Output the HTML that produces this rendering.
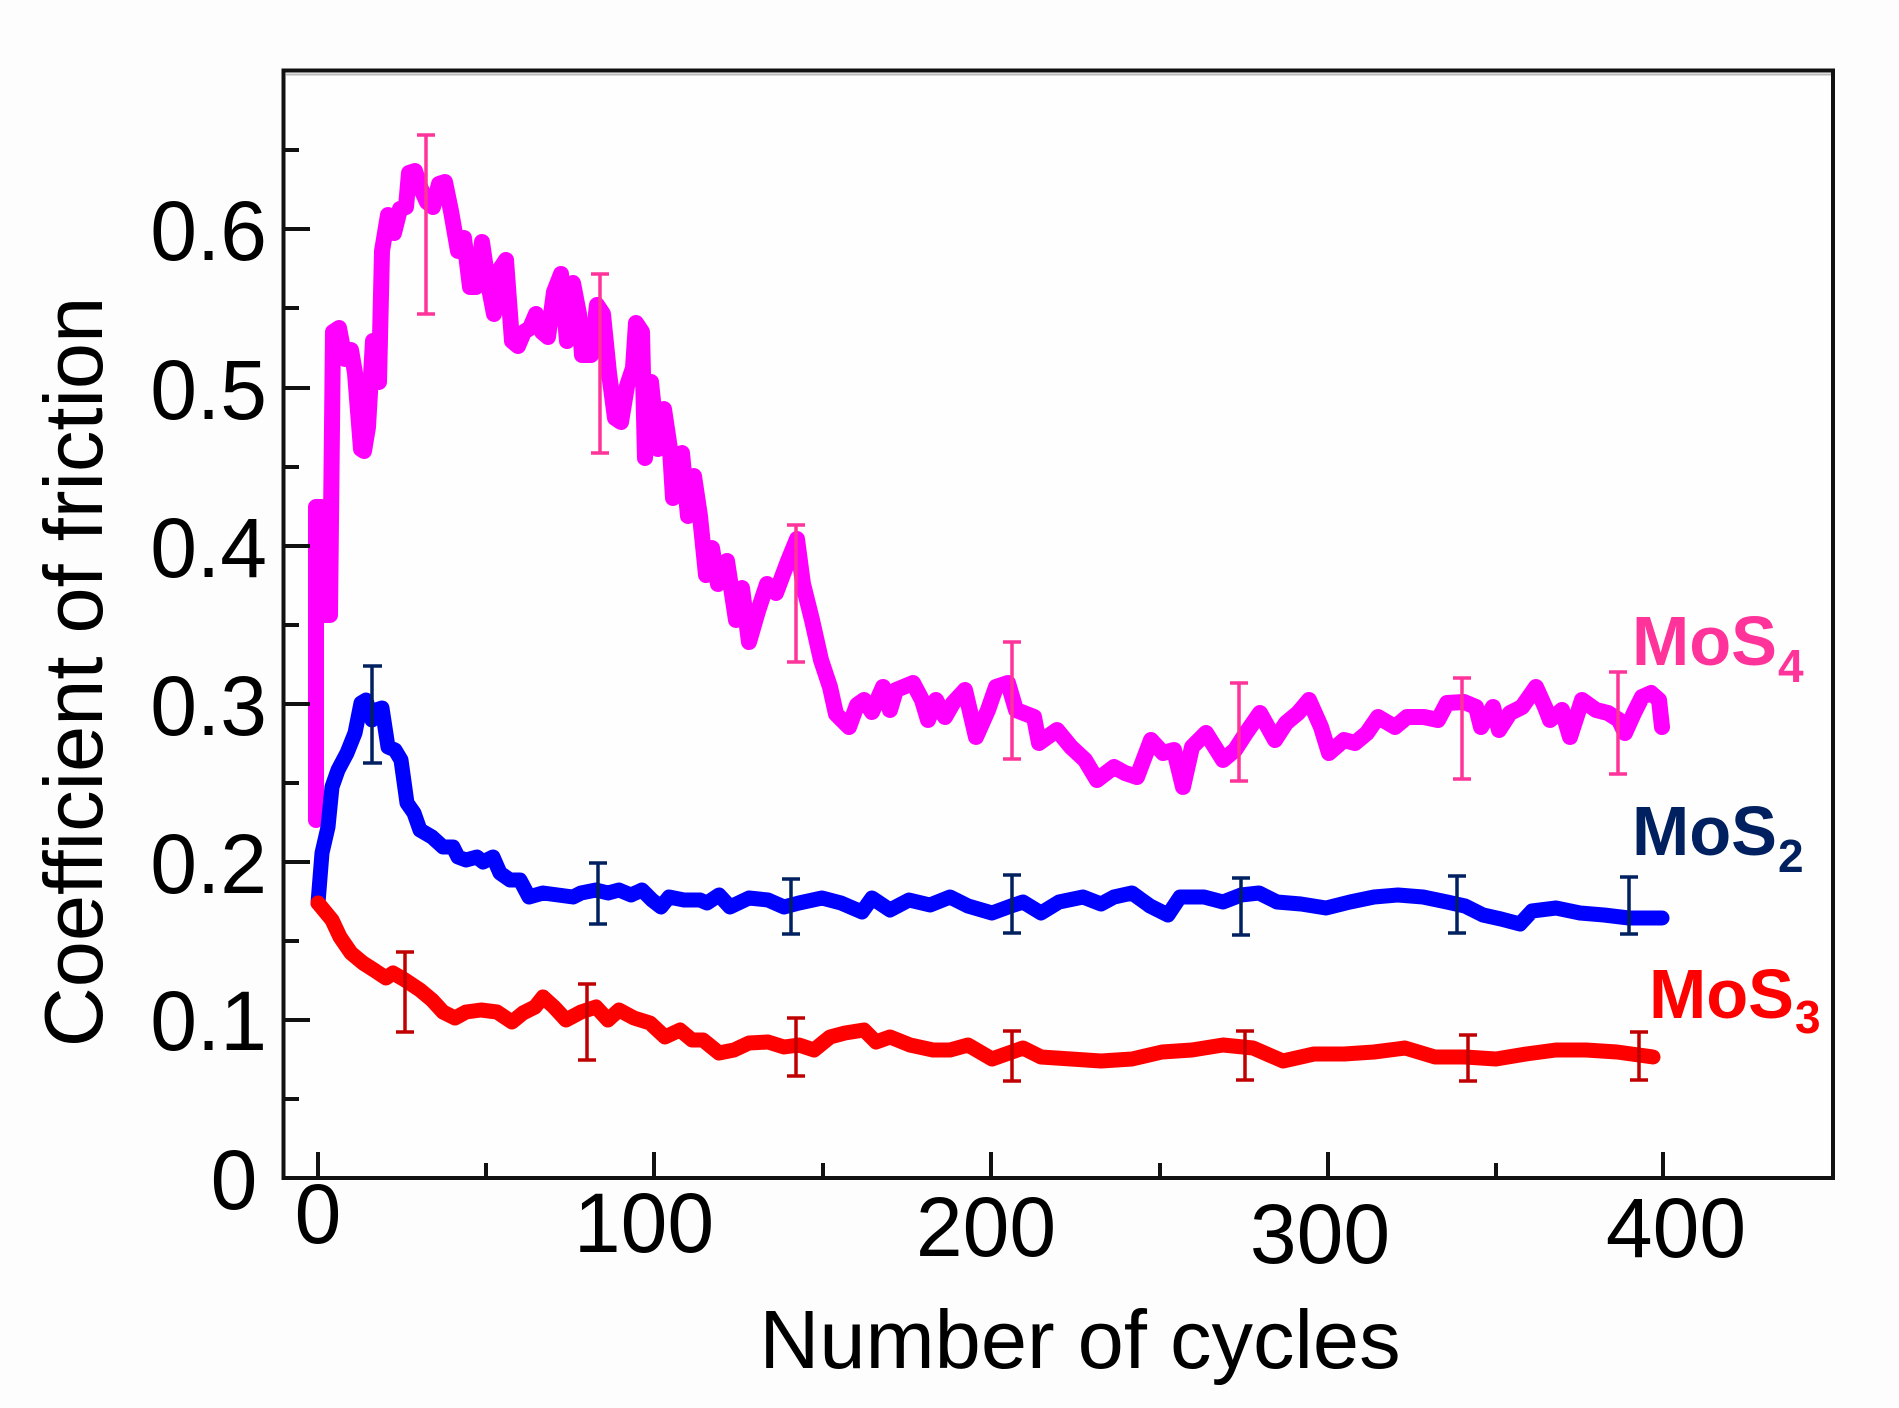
<!DOCTYPE html>
<html><head><meta charset="utf-8"><style>
html,body{margin:0;padding:0;background:#fff;}
svg{display:block;}
text{font-family:"Liberation Sans",Arial,sans-serif;}
</style></head><body>
<svg width="1899" height="1408" viewBox="0 0 1899 1408" xmlns="http://www.w3.org/2000/svg">
<rect x="0" y="0" width="1899" height="1408" fill="#fdfdfd"/>
<rect x="284" y="71" width="1549" height="1107" fill="#fefefe"/>

<!-- curves -->
<g fill="none" stroke-linejoin="round" stroke-linecap="round">
<polyline stroke="#ff00ff" stroke-width="16" points="316,820 316,507 321,507 324,615 330,615 333,332 339,328 345,359 351,350 355,373 361,449 364,451 368,427 373,341 379,382 382,251 388,215 394,233 400,209 406,207 409,173 415,171 421,189 427,202 433,207 439,184 445,182 451,211 458,251 464,238 470,287 476,287 482,242 488,283 494,314 500,269 506,260 512,341 518,346 524,332 530,328 536,314 542,332 548,337 554,292 561,274 567,341 573,283 579,314 582,355 591,355 597,305 603,314 609,373 615,418 621,422 627,386 633,368 636,323 642,332 645,458 651,382 658,449 664,409 670,449 673,498 682,453 688,516 694,476 700,516 706,575 712,548 718,584 727,561 736,620 742,588 749,642 758,611 767,584 776,593 788,561 797,539 803,584 812,620 821,660 830,687 836,714 849,727 857,705 864,700 872,712 883,687 890,710 896,690 913,683 922,700 928,720 936,700 945,717 953,703 965,690 976,737 988,710 996,687 1008,683 1016,710 1034,717 1039,743 1057,730 1071,747 1085,760 1097,780 1114,767 1125,773 1137,777 1151,740 1163,753 1174,750 1183,787 1192,747 1206,733 1223,760 1235,750 1246,733 1260,713 1275,740 1286,723 1298,713 1309,700 1321,727 1329,753 1344,740 1355,743 1367,733 1378,717 1395,727 1407,717 1424,717 1438,720 1447,703 1464,702 1476,707 1481,727 1493,707 1499,730 1510,713 1522,707 1536,687 1545,707 1550,720 1562,710 1570,737 1582,700 1596,710 1608,713 1619,720 1625,733 1634,713 1642,697 1651,693 1659,700 1662,727"/>
<polyline stroke="#0000ff" stroke-width="15" points="318,903 322,853 328,827 332,787 338,770 347,753 355,733 361,703 366,700 372,720 376,710 382,708 388,747 395,750 401,760 407,803 414,813 420,830 432,837 443,847 453,847 458,857 466,860 477,857 483,862 493,857 500,873 510,880 520,880 529,897 543,893 558,895 573,897 581,893 596,890 608,893 619,890 631,895 642,890 652,900 661,907 669,897 684,900 700,900 707,903 719,895 730,907 749,898 768,900 784,907 799,903 822,898 841,903 862,912 872,898 890,910 909,900 930,905 950,897 968,906 992,913 1011,906 1023,902 1041,913 1059,902 1083,897 1101,904 1114,897 1132,893 1150,906 1168,915 1180,897 1204,897 1223,902 1241,895 1259,893 1277,902 1301,904 1326,908 1350,902 1374,897 1398,895 1423,897 1447,902 1465,906 1483,915 1501,919 1520,924 1532,911 1556,908 1580,913 1604,915 1629,918 1662,918"/>
<polyline stroke="#ff0000" stroke-width="15" points="318,903 332,920 340,937 351,953 363,963 374,970 386,978 393,973 405,980 420,990 432,1000 443,1012 455,1018 466,1012 481,1010 497,1012 512,1022 523,1013 535,1007 543,997 554,1007 566,1020 581,1012 596,1007 608,1020 619,1010 634,1018 650,1023 665,1037 680,1030 692,1040 703,1040 719,1053 734,1050 749,1043 768,1042 784,1047 799,1045 814,1050 830,1037 845,1033 864,1030 876,1042 890,1037 910,1045 933,1050 950,1050 968,1045 992,1059 1023,1048 1041,1057 1071,1059 1101,1061 1132,1059 1162,1052 1192,1050 1223,1045 1253,1048 1283,1061 1314,1054 1344,1054 1374,1052 1405,1048 1435,1057 1465,1057 1496,1059 1526,1054 1556,1050 1586,1050 1617,1052 1653,1057"/>
</g>

<!-- error bars -->
<g fill="none" stroke="#ff3399" stroke-width="3.5">
<path d="M426,135V314M417,135H435M417,314H435"/>
<path d="M600,274V453M591,274H609M591,453H609"/>
<path d="M796,525V662M787,525H805M787,662H805"/>
<path d="M1012,642V759M1003,642H1021M1003,759H1021"/>
<path d="M1239,683V781M1230,683H1248M1230,781H1248"/>
<path d="M1462,678V779M1453,678H1471M1453,779H1471"/>
<path d="M1618,672V774M1609,672H1627M1609,774H1627"/>
</g>
<g fill="none" stroke="#002060" stroke-width="3.5">
<path d="M372,666V763M363,666H382M363,763H382"/>
<path d="M598,863V924M589,863H607M589,924H607"/>
<path d="M791,879V934M782,879H800M782,934H800"/>
<path d="M1012,875V933M1003,875H1021M1003,933H1021"/>
<path d="M1241,878V935M1232,878H1250M1232,935H1250"/>
<path d="M1457,876V933M1448,876H1466M1448,933H1466"/>
<path d="M1629,877V934M1620,877H1638M1620,934H1638"/>
</g>
<g fill="none" stroke="#c00000" stroke-width="3.5">
<path d="M405,952V1032M396,952H414M396,1032H414"/>
<path d="M587,984V1060M578,984H596M578,1060H596"/>
<path d="M796,1018V1076M787,1018H805M787,1076H805"/>
<path d="M1012,1031V1081M1003,1031H1021M1003,1081H1021"/>
<path d="M1245,1031V1080M1236,1031H1254M1236,1080H1254"/>
<path d="M1468,1035V1081M1459,1035H1477M1459,1081H1477"/>
<path d="M1639,1032V1080M1630,1032H1648M1630,1080H1648"/>
</g>

<!-- axes frame -->
<line x1="286" y1="74.5" x2="1831" y2="74.5" stroke="#bbb" stroke-width="2"/>
<rect x="283.5" y="70.5" width="1549.5" height="1107.5" fill="none" stroke="#111" stroke-width="4"/>

<!-- y ticks -->
<g stroke="#111" stroke-width="4">
<line x1="283" y1="1020" x2="310" y2="1020"/>
<line x1="283" y1="862" x2="310" y2="862"/>
<line x1="283" y1="704" x2="310" y2="704"/>
<line x1="283" y1="546" x2="310" y2="546"/>
<line x1="283" y1="388" x2="310" y2="388"/>
<line x1="283" y1="229" x2="310" y2="229"/>
<line x1="283" y1="1099" x2="299" y2="1099"/>
<line x1="283" y1="941" x2="299" y2="941"/>
<line x1="283" y1="783" x2="299" y2="783"/>
<line x1="283" y1="625" x2="299" y2="625"/>
<line x1="283" y1="467" x2="299" y2="467"/>
<line x1="283" y1="308" x2="299" y2="308"/>
<line x1="283" y1="150" x2="299" y2="150"/>
<!-- x ticks -->
<line x1="318" y1="1152" x2="318" y2="1178"/>
<line x1="654" y1="1152" x2="654" y2="1178"/>
<line x1="991" y1="1152" x2="991" y2="1178"/>
<line x1="1328" y1="1152" x2="1328" y2="1178"/>
<line x1="1663" y1="1152" x2="1663" y2="1178"/>
<line x1="486" y1="1163" x2="486" y2="1178"/>
<line x1="823" y1="1163" x2="823" y2="1178"/>
<line x1="1160" y1="1163" x2="1160" y2="1178"/>
<line x1="1496" y1="1163" x2="1496" y2="1178"/>
</g>

<!-- y tick labels -->
<g font-size="84" fill="#000" text-anchor="end">
<text x="267" y="260">0.6</text>
<text x="267" y="419">0.5</text>
<text x="267" y="577">0.4</text>
<text x="267" y="735">0.3</text>
<text x="267" y="893">0.2</text>
<text x="267" y="1050">0.1</text>
</g>
<text x="234" y="1209" font-size="84" text-anchor="middle" fill="#000">0</text>

<!-- x tick labels -->
<g font-size="84" fill="#000" text-anchor="middle">
<text x="318" y="1243">0</text>
<text x="644" y="1252">100</text>
<text x="986" y="1256">200</text>
<text x="1320" y="1263">300</text>
<text x="1676" y="1257">400</text>
</g>

<!-- axis titles -->
<text x="1080" y="1368" font-size="83" text-anchor="middle" fill="#000">Number of cycles</text>
<text transform="translate(102,672) rotate(-90)" x="0" y="0" font-size="83" text-anchor="middle" fill="#000">Coefficient of friction</text>

<!-- series labels -->
<g font-weight="bold">
<text x="1632" y="665" font-size="70" fill="#ff3399" textLength="145" lengthAdjust="spacingAndGlyphs">MoS</text>
<text x="1778" y="682" font-size="46" fill="#ff3399">4</text>
<text x="1632" y="855" font-size="70" fill="#002060" textLength="145" lengthAdjust="spacingAndGlyphs">MoS</text>
<text x="1778" y="872" font-size="46" fill="#002060">2</text>
<text x="1649" y="1018" font-size="70" fill="#ff0000" textLength="145" lengthAdjust="spacingAndGlyphs">MoS</text>
<text x="1795" y="1033" font-size="46" fill="#ff0000">3</text>
</g>
</svg>
</body></html>
